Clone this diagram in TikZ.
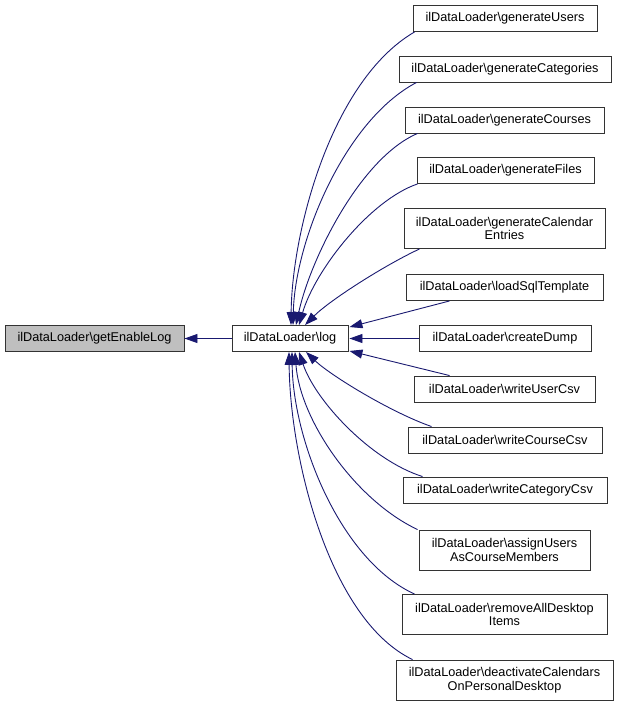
\documentclass[tikz,border=0pt]{standalone}
\usepackage{fontspec}
\setmainfont{Liberation Sans}
\usetikzlibrary{arrows.meta}
\definecolor{edgeblue}{HTML}{191970}
\definecolor{nodegray}{HTML}{BFBFBF}
\definecolor{nodeline}{HTML}{333333}
\begin{document}
\begin{tikzpicture}[x=1pt,y=-1pt,
  box/.style={draw=nodeline,line width=0.9pt,fill=white,rectangle,inner sep=0pt,
    minimum height=26pt,align=center,font=\fontsize{12.7}{13.8}\selectfont},
  box2/.style={box,minimum height=40pt},
  edge/.style={draw=edgeblue,line width=0.9pt,-{Triangle[length=13pt,width=9pt]}}
]
\useasboundingbox (0,0) rectangle (620,706);
\node[box,fill=nodegray,minimum width=179pt] (gel) at (94.5,338.5) {ilDataLoader\textbackslash getEnableLog};
\node[box,minimum width=116pt] (log) at (290,338.5) {ilDataLoader\textbackslash log};
\node[box,minimum width=184pt] (gu) at (505,18.5) {ilDataLoader\textbackslash generateUsers};
\node[box,minimum width=212pt] (gcat) at (505,69) {ilDataLoader\textbackslash generateCategories};
\node[box,minimum width=199pt] (gco) at (504.5,120) {ilDataLoader\textbackslash generateCourses};
\node[box,minimum width=177pt] (gf) at (505.5,170.5) {ilDataLoader\textbackslash generateFiles};
\node[box2,minimum width=201pt] (gce) at (504.5,228.5) {ilDataLoader\textbackslash generateCalendar\\Entries};
\node[box,minimum width=197pt] (lst) at (504.5,287.5) {ilDataLoader\textbackslash loadSqlTemplate};
\node[box,minimum width=172pt] (cd) at (505,338.5) {ilDataLoader\textbackslash createDump};
\node[box,minimum width=181pt] (wuc) at (504.5,389) {ilDataLoader\textbackslash writeUserCsv};
\node[box,minimum width=194pt] (wcc) at (505,440) {ilDataLoader\textbackslash writeCourseCsv};
\node[box,minimum width=204pt] (wcat) at (505,490) {ilDataLoader\textbackslash writeCategoryCsv};
\node[box2,minimum width=171pt] (au) at (504.5,550) {ilDataLoader\textbackslash assignUsers\\AsCourseMembers};
\node[box2,minimum width=205pt] (ra) at (504.5,614.5) {ilDataLoader\textbackslash removeAllDesktop\\Items};
\node[box2,minimum width=217pt] (de) at (504.5,680) {ilDataLoader\textbackslash deactivateCalendars\\OnPersonalDesktop};

\draw[edge] (log.west) -- (gel.east);

\draw[edge] ([xshift=2pt]gu.south west) .. controls (332,80) and (292,230) .. ([xshift=1pt]log.north);
\draw[edge] ([xshift=18pt]gcat.south west) .. controls (345,120) and (295,240) .. ([xshift=3pt]log.north);
\draw[edge] ([xshift=13pt]gco.south west) .. controls (360,158) and (310,260) .. ([xshift=6pt]log.north);
\draw[edge] ([xshift=1pt]gf.south west) .. controls (370,200) and (315,270) .. ([xshift=9pt]log.north);
\draw[edge] ([xshift=16pt]gce.south west) .. controls (385,265) and (330,300) .. ([xshift=15pt]log.north);
\draw[edge] ([xshift=44pt]lst.south west) -- ([xshift=1pt,yshift=-2pt]log.north east);
\draw[edge] (cd.west) -- ([xshift=1pt]log.east);
\draw[edge] ([xshift=36pt]wuc.north west) -- ([xshift=1pt,yshift=1pt]log.south east);
\draw[edge] ([xshift=24pt]wcc.north west) .. controls (390,412) and (330,375) .. ([xshift=16pt]log.south);
\draw[edge] ([xshift=20pt]wcat.north west) .. controls (370,460) and (315,400) .. ([xshift=9pt]log.south);
\draw[edge] ([xshift=-1pt]au.north west) .. controls (355,500) and (300,420) .. ([xshift=5pt]log.south);
\draw[edge] ([xshift=13pt]ra.north west) .. controls (340,560) and (293,440) .. ([xshift=2pt]log.south);
\draw[edge] ([xshift=17pt]de.north west) .. controls (330,620) and (290,460) .. ([xshift=-1pt]log.south);
\end{tikzpicture}
\end{document}
